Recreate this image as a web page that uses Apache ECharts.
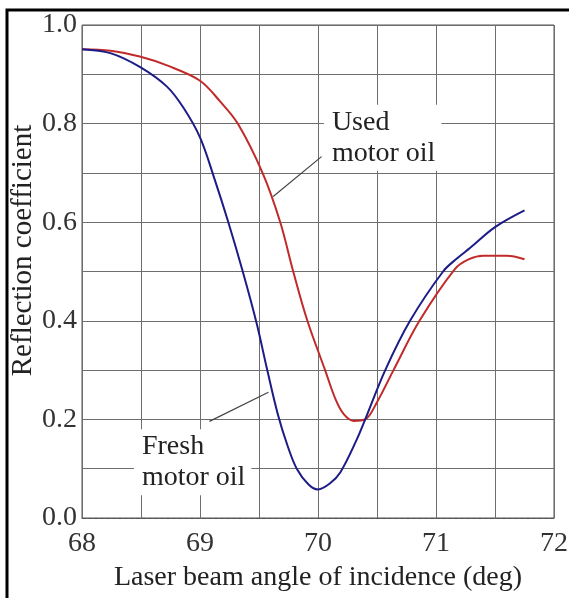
<!DOCTYPE html>
<html>
<head>
<meta charset="utf-8">
<script src="https://cdn.jsdelivr.net/npm/echarts@6/dist/echarts.min.js"></script>
<style>
  html, body { margin: 0; padding: 0; background: #fff; }
  #main { width: 569px; height: 598px; }
</style>
</head>
<body>
<div id="main"></div>
<script>
// fresh motor oil (blue) : [angle, reflection]
var freshAngle = [68.0, 68.24, 68.49, 68.72, 68.86, 69.0, 69.12, 69.24, 69.36, 69.48, 69.57, 69.66, 69.74, 69.82, 69.92, 70.0, 70.1, 70.19, 70.33, 70.4, 70.57, 70.78, 71.06, 71.18, 71.29, 71.5, 71.75];
var freshValue = [0.951, 0.943, 0.915, 0.875, 0.832, 0.772, 0.69, 0.6, 0.502, 0.395, 0.3, 0.21, 0.148, 0.1, 0.068, 0.058, 0.07, 0.093, 0.16, 0.2, 0.3, 0.4, 0.5, 0.527, 0.548, 0.59, 0.624];
// used motor oil (red)
var usedAngle = [68.0, 68.24, 68.49, 68.72, 69.0, 69.17, 69.32, 69.53, 69.68, 69.79, 69.91, 70.06, 70.15, 70.22, 70.3, 70.4, 70.5, 70.64, 70.86, 71.16, 71.28, 71.4, 71.6, 71.75];
var usedValue = [0.951, 0.948, 0.936, 0.918, 0.887, 0.845, 0.8, 0.7, 0.6, 0.5, 0.4, 0.3, 0.24, 0.21, 0.197, 0.2, 0.235, 0.3, 0.4, 0.505, 0.525, 0.532, 0.532, 0.525];

// annotations (data coordinates)
var usedNote = { x: 70.05, y: 0.838, text: 'Used\nmotor oil', from: [70.03, 0.733], to: [69.62, 0.652] };
var freshNote = { x: 68.44, y: 0.18, text: 'Fresh\nmotor oil', from: [69.08, 0.196], to: [69.58, 0.255] };

function zip(a, b) {
  return a.map(function (v, i) { return [v, b[i]]; });
}

var serif = '"Liberation Serif", "DejaVu Serif", serif';
var chart = echarts.init(document.getElementById('main'));

var option = {
  backgroundColor: '#fff',
  animation: false,
  grid: { left: 82, top: 25, right: 15, bottom: 80, outerBoundsMode: 'none', show: true, borderColor: '#555', borderWidth: 1 },
  xAxis: {
    type: 'value',
    min: 68, max: 72, interval: 0.5,
    name: 'Laser beam angle of incidence (deg)',
    nameLocation: 'middle',
    nameGap: 46,
    nameTextStyle: { fontFamily: serif, fontSize: 28, color: '#222' },
    axisLine: { lineStyle: { color: '#555', type: 'dashed' } },
    axisTick: { show: false },
    axisLabel: {
      margin: 12,
      fontFamily: serif, fontSize: 28, color: '#333',
      formatter: function (v) { return Math.abs(v - Math.round(v)) < 1e-6 ? String(Math.round(v)) : ''; }
    },
    splitLine: { show: true, lineStyle: { color: '#6e6e6e', width: 1 } }
  },
  yAxis: {
    type: 'value',
    min: 0, max: 1, interval: 0.1,
    name: 'Reflection coefficient',
    nameLocation: 'middle',
    nameGap: 44,
    nameMoveOverlap: false,
    nameTextStyle: { fontFamily: serif, fontSize: 29, color: '#222', padding: [0, 0, 0, 42] },
    axisLine: { show: false },
    axisTick: { show: false },
    axisLabel: {
      margin: 5,
      fontFamily: serif, fontSize: 28, color: '#333',
      formatter: function (v) { return Math.round(v * 10) % 2 === 0 ? v.toFixed(1) : ''; }
    },
    splitLine: { show: true, lineStyle: { color: '#6e6e6e', width: 1 } }
  },
  series: [
    {
      name: 'Fresh motor oil',
      type: 'line',
      data: zip(freshAngle, freshValue),
      smooth: 0.35,
      symbol: 'none',
      z: 3,
      lineStyle: { color: '#1c1c86', width: 2 }
    },
    {
      name: 'Used motor oil',
      type: 'line',
      data: zip(usedAngle, usedValue),
      smooth: 0.35,
      symbol: 'none',
      z: 2,
      lineStyle: { color: '#c22a2a', width: 2 }
    }
  ]
};
chart.setOption(option);

// labels + leader lines, placed from data coords
function note(n) {
  var p = chart.convertToPixel({ gridIndex: 0 }, [n.x, n.y]);
  var a = chart.convertToPixel({ gridIndex: 0 }, n.from);
  var b = chart.convertToPixel({ gridIndex: 0 }, n.to);
  return [
    {
      type: 'text', x: p[0], y: p[1], z: 10,
      style: {
        text: n.text, fill: '#222',
        font: '28px ' + serif, lineHeight: 31,
        backgroundColor: '#fff', padding: [2, 6, 2, 8]
      }
    },
    {
      type: 'line', z: 10,
      shape: { x1: a[0], y1: a[1], x2: b[0], y2: b[1] },
      style: { stroke: '#444', lineWidth: 1.2 }
    }
  ];
}

chart.setOption({
  graphic: [
    // photo frame: left and top edges
    { type: 'rect', z: 20, shape: { x: 7, y: 10, width: 700, height: 700 }, style: { fill: 'none', stroke: '#000', lineWidth: 3 } }
  ].concat(note(usedNote), note(freshNote))
});
</script>
</body>
</html>
